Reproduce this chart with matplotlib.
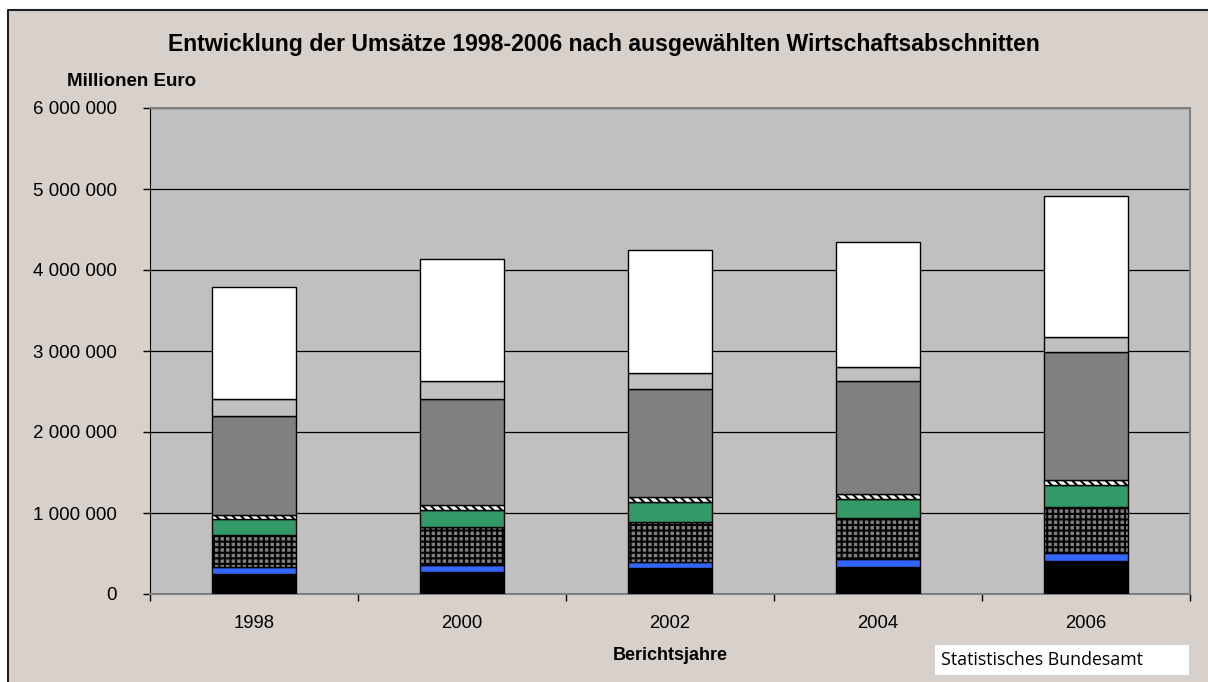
import matplotlib.pyplot as plt
import matplotlib.patches as mpatches
from matplotlib.lines import Line2D
from matplotlib.ticker import FuncFormatter, FixedLocator
import numpy as np

plt.rcParams['font.family'] = ['Liberation Sans', 'DejaVu Sans']
plt.rcParams['hatch.linewidth'] = 1.5

jahre = ['1998', '2000', '2002', '2004', '2006']

# Umsaetze in Millionen Euro, Segmente von unten nach oben
seg_schwarz = [247000, 268000, 321000, 337000, 411000]
seg_blau = [83000, 90000, 74000, 91000, 91000]
seg_gitter = [398000, 465000, 494000, 510000, 576000]
seg_gruen = [198000, 210000, 251000, 239000, 272000]
seg_schraffur = [45000, 62000, 54000, 54000, 57000]
seg_dunkelgrau = [1230000, 1312000, 1337000, 1403000, 1577000]
seg_hellgrau = [210000, 226000, 194000, 172000, 189000]
seg_weiss = [1375000, 1507000, 1518000, 1544000, 1745000]

segmente = [
    (seg_schwarz, '#000000', None),
    (seg_blau, '#3366FF', None),
    (seg_gitter, '#808080', '+++'),
    (seg_gruen, '#339966', None),
    (seg_schraffur, '#FFFFFF', '\\\\\\\\'),
    (seg_dunkelgrau, '#808080', None),
    (seg_hellgrau, '#C0C0C0', None),
    (seg_weiss, '#FFFFFF', None),
]

bg = '#D8D0CA'
W, H = 1208, 682
fig = plt.figure(figsize=(12.08, 6.82), dpi=100, facecolor='white')

# Diagrammflaeche (links und oben schwarz umrandet, rechts/unten angeschnitten)
fig.add_artist(mpatches.Rectangle((8 / W, -0.01), 1.02 - 8 / W, 1.01 - 10 / H,
                                  transform=fig.transFigure, facecolor=bg,
                                  edgecolor='none', zorder=-2))
fig.add_artist(Line2D([8 / W, 8 / W, 1.0], [0.0, 1 - 10 / H, 1 - 10 / H],
                      transform=fig.transFigure, color='#202020', linewidth=1.5,
                      zorder=-1))

ax = fig.add_axes([150 / W, (H - 594) / H, (1190 - 150) / W, (594 - 108) / H])
ax.set_facecolor('#C0C0C0')

x = np.arange(len(jahre))
unten = np.zeros(len(jahre))
for werte, farbe, muster in segmente:
    ax.bar(x, werte, width=0.4, bottom=unten, color=farbe, edgecolor='black',
           linewidth=1, hatch=muster, zorder=3)
    unten += np.array(werte)

ax.set_xlim(-0.5, len(jahre) - 0.5)
ax.set_ylim(0, 6000000)
ax.yaxis.set_major_locator(FixedLocator(np.arange(0, 6000001, 1000000)))
ax.yaxis.set_major_formatter(FuncFormatter(lambda v, p: f'{int(v):,}'.replace(',', ' ')))
ax.grid(axis='y', color='black', linewidth=0.9, zorder=1)
ax.set_axisbelow(True)

ax.set_xticks(x)
ax.set_xticklabels(jahre)
ax.set_xticks(np.arange(-0.5, len(jahre)), minor=True)
ax.tick_params(axis='x', which='major', length=0, pad=15, labelsize=13.3)
ax.tick_params(axis='x', which='minor', length=5, width=1, direction='out')
ax.tick_params(axis='y', length=5, width=1, direction='out', pad=19, labelsize=13.5)

for s in ['top', 'right']:
    ax.spines[s].set_color('#808080')
    ax.spines[s].set_linewidth(1.5)
ax.spines['left'].set_color('black')
ax.spines['bottom'].set_color('#808080')
ax.spines['bottom'].set_linewidth(1.5)

fig.text(604 / W, 1 - 45 / H, 'Entwicklung der Umsätze 1998-2006 nach ausgewählten Wirtschaftsabschnitten',
         ha='center', va='center', fontsize=16.6, fontweight='bold')
fig.text(67 / W, 1 - 82 / H, 'Millionen Euro', ha='left', va='center', fontsize=13.5, fontweight='bold')
fig.text(670 / W, 1 - 655 / H, 'Berichtsjahre', ha='center', va='center', fontsize=13, fontweight='bold')

# Quellenkasten
fig.add_artist(mpatches.Rectangle((935 / W, 1 - 675 / H), 254 / W, 30 / H,
                                  transform=fig.transFigure, facecolor='white',
                                  edgecolor='none', zorder=-1))
fig.text(941 / W, 1 - 660 / H, 'Statistisches Bundesamt', ha='left', va='center',
         fontsize=12.8, family=['Open Sans', 'DejaVu Sans'])

fig.savefig('out.png', dpi=100, facecolor='white')
